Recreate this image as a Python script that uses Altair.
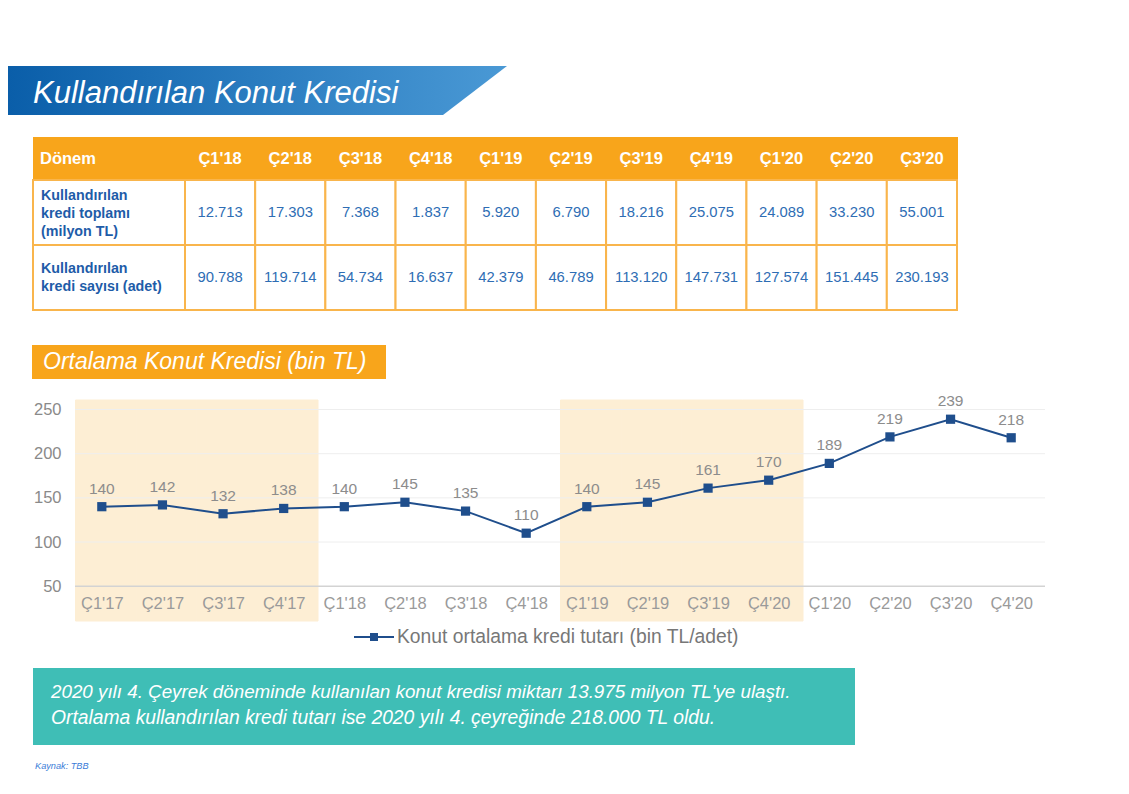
import json
import altair as alt
import pandas as pd

# ---------------- data ----------------
periods = ["Ç1'18", "Ç2'18", "Ç3'18", "Ç4'18", "Ç1'19", "Ç2'19", "Ç3'19",
           "Ç4'19", "Ç1'20", "Ç2'20", "Ç3'20"]
kredi_toplami = [12713, 17303, 7368, 1837, 5920, 6790, 18216, 25075, 24089, 33230, 55001]
kredi_sayisi = [90788, 119714, 54734, 16637, 42379, 46789, 113120, 147731, 127574, 151445, 230193]
row_ids = ["r1", "r2"]
row_labels = ["Kullandırılan\nkredi toplamı\n(milyon TL)", "Kullandırılan\nkredi sayısı (adet)"]

quarter_labels = ["Ç1'17", "Ç2'17", "Ç3'17", "Ç4'17", "Ç1'18", "Ç2'18", "Ç3'18", "Ç4'18",
                  "Ç1'19", "Ç2'19", "Ç3'19", "Ç4'20", "Ç1'20", "Ç2'20", "Ç3'20", "Ç4'20"]
ortalama = [140, 142, 132, 138, 140, 145, 135, 110, 140, 145, 161, 170, 189, 219, 239, 218]
shaded_quarters = [0, 1, 2, 3, 8, 9, 10, 11]
grid_values = [100, 150, 200, 250]
base_value = [50]
series_name = "Konut ortalama kredi tutarı (bin TL/adet)"

FONT = "Liberation Sans"
ORANGE = "#F8A51B"
BLUE_TXT = "#2E6DB4"


def tr(n):
    return f"{n:,}".replace(",", ".")


cells = pd.DataFrame(
    [{"row": "r1", "period": p, "val": tr(v)} for p, v in zip(periods, kredi_toplami)]
    + [{"row": "r2", "period": p, "val": tr(v)} for p, v in zip(periods, kredi_sayisi)]
)
rows_df = pd.DataFrame({"row": row_ids, "label": row_labels})
periods_df = pd.DataFrame({"period": periods})
line_df = pd.DataFrame({"q": list(range(len(ortalama))), "v": ortalama, "series": series_name})
shade_df = pd.DataFrame({"q": shaded_quarters})

# ---------------- scales ----------------
px = alt.Scale(domain=periods, range=[177, 949], paddingInner=0, paddingOuter=0)
py = alt.Scale(domain=row_ids, range=[172, 302], paddingInner=0, paddingOuter=0)
qx = alt.Scale(domain=list(range(16)), range=[63.5, 1033.5], paddingInner=0, paddingOuter=0)
vy = alt.Scale(domain=[50, 250], range=[578.2, 401.5], zero=False, nice=False)

# ---------------- banner ----------------
grad = alt.LinearGradient(
    gradient="linear",
    stops=[alt.GradientStop(color="#0A5EA9", offset=0),
           alt.GradientStop(color="#2D7FC2", offset=0.55),
           alt.GradientStop(color="#4A99D5", offset=1)],
    x1=0, x2=1, y1=0, y2=0)
banner = alt.Chart().mark_point(
    shape="M-1,-0.098L0.996,-0.098L0.74,0.098L-1,0.098Z",
    size=250000, filled=True, fill=grad, opacity=1, strokeOpacity=0
).encode(x=alt.value(250), y=alt.value(82.5))
title = alt.Chart().mark_text(
    text="Kullandırılan Konut Kredisi", font=FONT, fontStyle="italic", fontSize=31,
    color="white", align="left", baseline="alphabetic"
).encode(x=alt.value(25), y=alt.value(95))

# ---------------- table ----------------
head_bg = alt.Chart().mark_rect(color=ORANGE).encode(
    x=alt.value(25), x2=alt.value(950), y=alt.value(129), y2=alt.value(172))
head_donem = alt.Chart().mark_text(
    text="Dönem", font=FONT, fontWeight="bold", fontSize=16.5, color="white",
    align="left", baseline="middle").encode(x=alt.value(32), y=alt.value(150.5))
head_periods = alt.Chart(periods_df).mark_text(
    font=FONT, fontWeight="bold", fontSize=16.5, color="white", baseline="middle"
).encode(x=alt.X("period:N", scale=px, axis=None), y=alt.value(150.5), text="period:N")
cell_rects = alt.Chart(cells).mark_rect(fill="white", stroke="#F9B54C", strokeWidth=2).encode(
    x=alt.X("period:N", scale=px, axis=None), y=alt.Y("row:N", scale=py, axis=None))
label_rects = alt.Chart(rows_df).mark_rect(fill="white", stroke="#F9B54C", strokeWidth=2).encode(
    x=alt.value(25), x2=alt.value(177), y=alt.Y("row:N", scale=py, axis=None))
cell_text = alt.Chart(cells).mark_text(font=FONT, fontSize=14.8, color=BLUE_TXT, baseline="middle").encode(
    x=alt.X("period:N", scale=px, axis=None), y=alt.Y("row:N", scale=py, axis=None), text="val:N")

LH = 18
label_layers = []
for rid, lab in zip(row_ids, row_labels):
    n = lab.count("\n") + 1
    shift = 1.5 if n == 3 else 0
    label_layers.append(
        alt.Chart(rows_df).transform_filter(alt.datum.row == rid).mark_text(
            font=FONT, fontWeight="bold", fontSize=14.3, color="#1E5CA8", align="left",
            baseline="middle", lineBreak="\n", lineHeight=LH, dy=-(n - 1) * LH / 2 + shift
        ).encode(x=alt.value(33), y=alt.Y("row:N", scale=py, axis=None), text="label:N")
    )

# ---------------- subtitle ----------------
sub_bg = alt.Chart().mark_rect(color=ORANGE).encode(
    x=alt.value(24), x2=alt.value(378), y=alt.value(337), y2=alt.value(371))
sub_text = alt.Chart().mark_text(
    text="Ortalama Konut Kredisi (bin TL)", font=FONT, fontStyle="italic", fontSize=23,
    color="white", align="left", baseline="middle").encode(x=alt.value(35), y=alt.value(354))

# ---------------- line chart ----------------
shade = alt.Chart(shade_df).mark_rect(color="#FDEED4", stroke="#FDEED4", strokeWidth=1, xOffset=4).encode(
    x=alt.X("q:O", scale=qx, axis=None), y=alt.value(392), y2=alt.value(613))
grid = alt.Chart(pd.DataFrame({"t": grid_values})).mark_rule(color="#EEEEEE", strokeWidth=1).encode(
    y=alt.Y("t:Q", scale=vy, axis=None), x=alt.value(67), x2=alt.value(1037))
base = alt.Chart(pd.DataFrame({"t": base_value})).mark_rule(color="#D3D3D3", strokeWidth=1.5).encode(
    y=alt.Y("t:Q", scale=vy, axis=None), x=alt.value(67), x2=alt.value(1037))

label_expr = json.dumps(quarter_labels, ensure_ascii=False) + "[datum.value]"
legend_path = ("M-1,0L1,0M-0.2,-0.15L0.2,-0.15M-0.2,-0.05L0.2,-0.05"
               "M-0.2,0.05L0.2,0.05M-0.2,0.15L0.2,0.15")
line = alt.Chart(line_df).mark_line(
    strokeWidth=2,
    point=alt.OverlayMarkDef(shape="square", size=85, filled=True, opacity=1)
).encode(
    x=alt.X("q:O", scale=qx, axis=alt.Axis(
        title=None, labelExpr=label_expr, labelAngle=0, domain=False, ticks=False, tickSize=0,
        grid=False, labelPadding=9, labelFontSize=16.5, labelColor="#9A9A9A", labelFont=FONT,
        offset=-199.8, zindex=2)),
    y=alt.Y("v:Q", scale=vy, axis=alt.Axis(
        title=None, values=[50, 100, 150, 200, 250], domain=False, ticks=False, tickSize=0,
        grid=False, labelPadding=3, labelFontSize=16.5, labelColor="#8A8A8A", labelFont=FONT,
        offset=-56, zindex=2)),
    color=alt.Color("series:N", scale=alt.Scale(range=["#1F4E8C"]), legend=alt.Legend(
        title=None, orient="none", legendX=345, legendY=608, padding=0,
        symbolType=legend_path, symbolSize=1600, symbolStrokeWidth=2, labelOffset=2,
        labelLimit=0, labelFontSize=19.3, labelColor="#777777", labelFont=FONT)),
)
values_text = alt.Chart(line_df).mark_text(dy=-18, font=FONT, fontSize=15.5, color="#8C8C8C").encode(
    x=alt.X("q:O", scale=qx, axis=None), y=alt.Y("v:Q", scale=vy, axis=None), text="v:Q")

# ---------------- note box ----------------
note_bg = alt.Chart().mark_rect(color="#3FBEB6").encode(
    x=alt.value(25), x2=alt.value(847), y=alt.value(660), y2=alt.value(737))
note1 = alt.Chart().mark_text(
    text="2020 yılı 4. Çeyrek döneminde kullanılan konut kredisi miktarı 13.975 milyon TL'ye ulaştı.",
    font=FONT, fontStyle="italic", fontSize=18.8, color="white", align="left", baseline="middle"
).encode(x=alt.value(43), y=alt.value(684))
note2 = alt.Chart().mark_text(
    text="Ortalama kullandırılan kredi tutarı ise 2020 yılı 4. çeyreğinde 218.000 TL oldu.",
    font=FONT, fontStyle="italic", fontSize=19.3, color="white", align="left", baseline="middle"
).encode(x=alt.value(43), y=alt.value(710))
source = alt.Chart().mark_text(
    text="Kaynak: TBB", font=FONT, fontStyle="italic", fontSize=9.2, color="#3B7DD8",
    align="left", baseline="middle").encode(x=alt.value(27), y=alt.value(758))

chart = alt.layer(
    banner, title,
    head_bg, head_donem, head_periods, cell_rects, label_rects, cell_text, *label_layers,
    sub_bg, sub_text,
    shade, grid, base, line, values_text,
    note_bg, note1, note2, source,
).resolve_scale(x="independent", y="independent", color="independent").properties(
    width=1113, height=778, padding=0, autosize=alt.AutoSizeParams(type="none"),
    background="white"
).configure_view(stroke=None)

chart.save("out.html", embed_options={"renderer": "svg", "actions": False})
